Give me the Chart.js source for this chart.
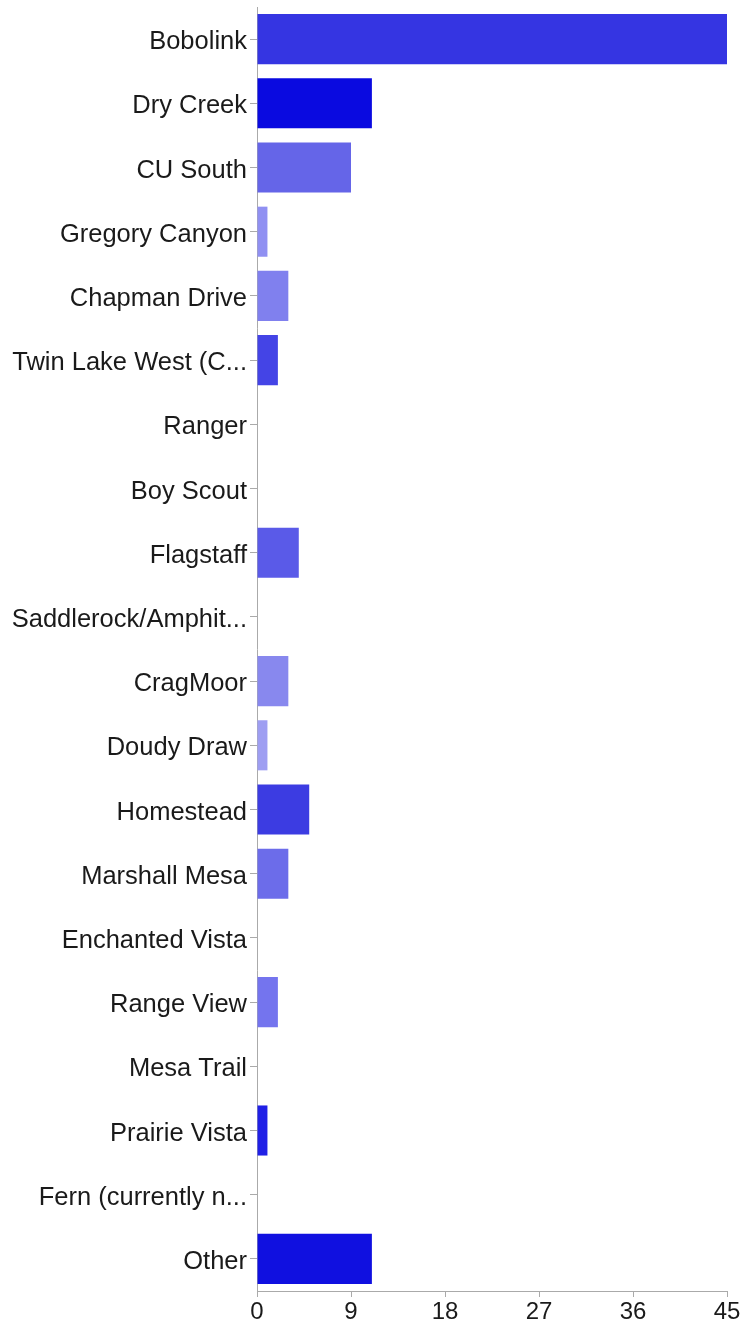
<!DOCTYPE html>
<html>
<head>
<meta charset="utf-8">
<script src="https://cdn.jsdelivr.net/npm/chart.js@4"></script>
<style>
  html, body { margin: 0; padding: 0; background: #fff; }
  #wrap { width: 743px; height: 1328px; position: relative; }
</style>
</head>
<body>
<div id="wrap"><canvas id="chart"></canvas></div>
<script>
var trails = [
  'Bobolink', 'Dry Creek', 'CU South', 'Gregory Canyon', 'Chapman Drive',
  'Twin Lake West (C...', 'Ranger', 'Boy Scout', 'Flagstaff', 'Saddlerock/Amphit...',
  'CragMoor', 'Doudy Draw', 'Homestead', 'Marshall Mesa', 'Enchanted Vista',
  'Range View', 'Mesa Trail', 'Prairie Vista', 'Fern (currently n...', 'Other'
];
var counts = [45, 11, 9, 1, 3, 2, 0, 0, 4, 0, 3, 1, 5, 3, 0, 2, 0, 1, 0, 11];
var barColors = [
  '#3535e2', '#0a0ae0', '#6565e8', '#9090f2', '#8080ee',
  '#4444e6', '#5a5ae8', '#5a5ae8', '#5a5ae8', '#5a5ae8',
  '#8888ee', '#9e9ef2', '#3c3ce2', '#6c6cea', '#6c6cea',
  '#7474ee', '#7474ee', '#2020e6', '#2020e6', '#1010e0'
];
var xTicks = [0, 9, 18, 27, 36, 45];

var axisGrey = '#aaaaaa';
var labelFont = { family: '"Liberation Sans", Arial, Helvetica, sans-serif', size: 25.5 };
var tickFont = { family: '"Liberation Sans", Arial, Helvetica, sans-serif', size: 24 };

new Chart(document.getElementById('chart'), {
  type: 'bar',
  data: {
    labels: trails,
    datasets: [{
      data: counts,
      backgroundColor: barColors,
      borderWidth: 0,
      barPercentage: 0.78,
      categoryPercentage: 1
    }]
  },
  options: {
    indexAxis: 'y',
    responsive: true,
    maintainAspectRatio: false,
    animation: false,
    devicePixelRatio: 1,
    layout: { padding: { top: 7, right: 16, left: 0, bottom: 0 } },
    plugins: { legend: { display: false }, tooltip: { enabled: false } },
    scales: {
      x: {
        min: 0,
        max: 45,
        afterBuildTicks: function(scale) {
          scale.ticks = xTicks.map(function(v) { return { value: v }; });
        },
        afterFit: function(scale) {
          scale.height = 37;
          scale.paddingLeft = 0;
          scale.paddingRight = 0;
        },
        grid: { drawOnChartArea: false, drawTicks: true, tickLength: 6, color: axisGrey },
        border: { color: axisGrey, width: 1 },
        ticks: { color: '#1a1a1a', font: tickFont, padding: 1, maxRotation: 0 }
      },
      y: {
        afterFit: function(scale) {
          scale.width = 257;
          scale.paddingTop = 0;
          scale.paddingBottom = 0;
        },
        grid: { offset: false, drawOnChartArea: false, drawTicks: true, tickLength: 7, color: axisGrey },
        border: { color: axisGrey, width: 1 },
        ticks: { color: '#1a1a1a', font: labelFont, padding: 3, labelOffset: 3, autoSkip: false }
      }
    }
  }
});
</script>
</body>
</html>
